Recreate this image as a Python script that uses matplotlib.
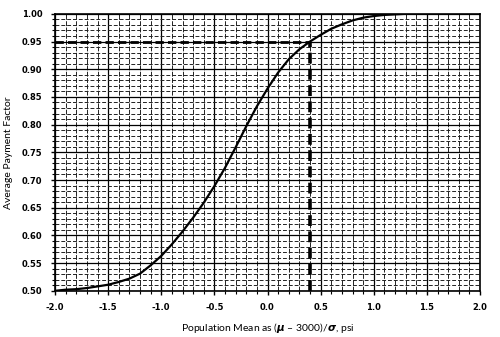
import matplotlib
matplotlib.use("Agg")
import matplotlib.pyplot as plt
from matplotlib.ticker import MultipleLocator, FormatStrFormatter

# Data
x_vals = [-2.0, -1.9, -1.8, -1.7, -1.6, -1.5, -1.4, -1.3, -1.2, -1.1, -1.0,
          -0.9, -0.8, -0.7, -0.6, -0.5, -0.4, -0.3, -0.2, -0.1, 0.0,
          0.1, 0.2, 0.3, 0.4, 0.5, 0.6, 0.7, 0.8, 0.9, 1.0,
          1.1, 1.2, 1.3, 1.4, 1.5, 1.6, 1.7, 1.8, 1.9, 2.0]
pay_factor = [0.500, 0.502, 0.503, 0.505, 0.508, 0.511, 0.516, 0.522, 0.531, 0.546, 0.563,
              0.584, 0.607, 0.632, 0.659, 0.689, 0.722, 0.759, 0.797, 0.833, 0.865,
              0.894, 0.918, 0.936, 0.950, 0.962, 0.973, 0.981, 0.988, 0.993, 0.996,
              0.998, 0.999, 1.000, 1.000, 1.000, 1.000, 1.000, 1.000, 1.000, 1.000]
ref_x = 0.4
ref_y = 0.95

plt.rcParams['mathtext.fontset'] = 'custom'
plt.rcParams['mathtext.bf'] = 'DejaVu Sans:bold:italic'
plt.rcParams['mathtext.rm'] = 'Lato'

fig = plt.figure(figsize=(5.0, 3.37), dpi=100)
ax = fig.add_axes([0.11, 0.137, 0.85, 0.822])

ax.set_xlim(-2.0, 2.0)
ax.set_ylim(0.50, 1.00)

ax.xaxis.set_major_locator(MultipleLocator(0.5))
ax.xaxis.set_minor_locator(MultipleLocator(0.1))
ax.yaxis.set_major_locator(MultipleLocator(0.05))
ax.yaxis.set_minor_locator(MultipleLocator(0.01))
ax.xaxis.set_major_formatter(FormatStrFormatter('%.1f'))
ax.yaxis.set_major_formatter(FormatStrFormatter('%.2f'))

ax.grid(which='major', color='black', linestyle='-', linewidth=0.9)
ax.xaxis.grid(which='minor', color='#222222', linestyle=(0, (5, 1.5)), linewidth=0.7)
ax.yaxis.grid(which='minor', color='#222222', linestyle=(0, (4, 2)), linewidth=0.7)
ax.set_axisbelow(True)

ax.plot(x_vals, pay_factor, color='black', linewidth=1.6, zorder=3)
ax.plot([-2.0, ref_x], [ref_y, ref_y], color='black', linewidth=2.0,
        linestyle=(0, (3, 1.5)), zorder=4)
ax.plot([ref_x, ref_x], [0.50, ref_y], color='black', linewidth=2.6,
        linestyle=(0, (3, 1.5)), zorder=4)

for s in ax.spines.values():
    s.set_linewidth(1.2)
    s.set_color('black')

ax.tick_params(which='major', direction='out', length=3, width=1, labelsize=6, pad=6)
ax.tick_params(which='minor', direction='out', length=2, width=0.8)
for lab in ax.get_xticklabels() + ax.get_yticklabels():
    lab.set_fontweight('bold')
    lab.set_family('DejaVu Sans')

ax.set_ylabel('Average Payment Factor', fontsize=7.5, family='Lato', labelpad=6)
ax.set_xlabel(r'Population Mean as ($\mathbf{\mu}$ – 3000)/$\mathbf{\sigma}$, psi',
              fontsize=7.5, family='Lato', labelpad=6)

fig.savefig('out.png', dpi=100)
